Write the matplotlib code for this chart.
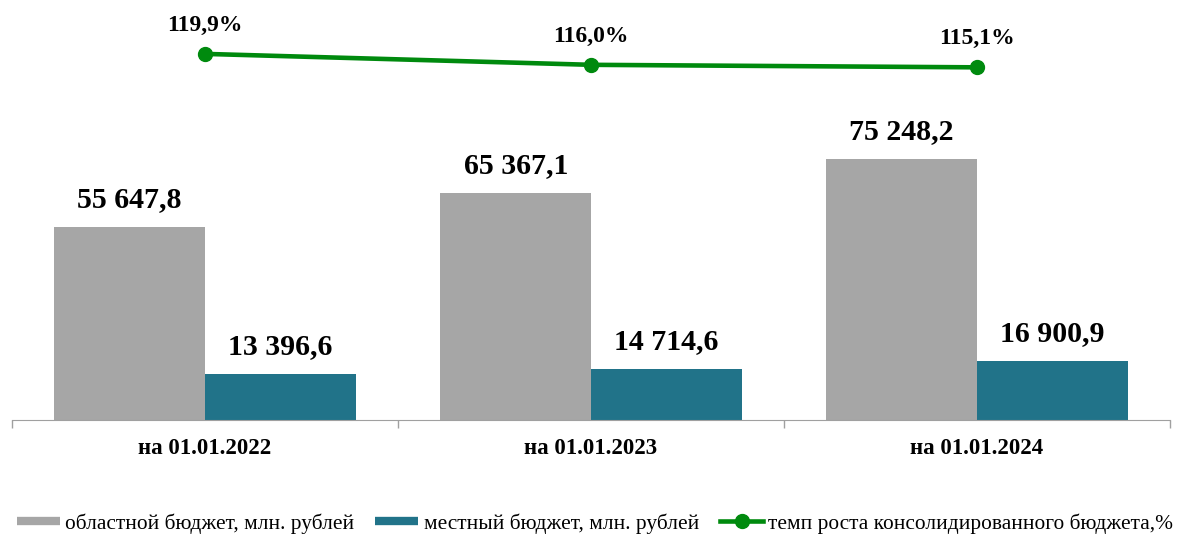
import numpy as np
import matplotlib.pyplot as plt
from matplotlib.lines import Line2D

plt.rcParams['font.family'] = ['Liberation Serif', 'DejaVu Serif']

categories = ["на 01.01.2022", "на 01.01.2023", "на 01.01.2024"]
regional = [55647.8, 65367.1, 75248.2]
local = [13396.6, 14714.6, 16900.9]
growth = [119.9, 116.0, 115.1]

GRAY = "#A6A6A6"
TEAL = "#217389"
GREEN = "#008A0E"


def fmt_num(v):
    s = "{:,.1f}".format(v)
    return s.replace(",", " ").replace(".", ",")


fig = plt.figure(figsize=(11.83, 5.34), dpi=100)
ax = fig.add_axes([12 / 1183, 114 / 534, 1158 / 1183, 400 / 534])

x = np.arange(len(categories))
w = 0.39
ax.bar(x - w / 2, regional, w, color=GRAY)
ax.bar(x + w / 2, local, w, color=TEAL)

for xi, v in zip(x - w / 2, regional):
    ax.annotate(fmt_num(v), (xi, v), xytext=(0, 10), textcoords="offset points",
                ha="center", va="bottom", fontsize=21.5, fontweight="bold")
for xi, v in zip(x + w / 2, local):
    ax.annotate(fmt_num(v), (xi, v), xytext=(0, 10), textcoords="offset points",
                ha="center", va="bottom", fontsize=21.5, fontweight="bold")

ax.set_xlim(-0.5, len(categories) - 0.5)
ax.set_ylim(0, 400 / 0.003468)
ax.set_xticks(x)
ax.set_xticklabels(categories, fontsize=16.5, fontweight="bold")
ax.set_xticks(np.arange(len(categories) + 1) - 0.5, minor=True)
ax.tick_params(axis="x", which="major", length=0, pad=13)
ax.tick_params(axis="x", which="minor", length=6, color="#A0A0A0", width=1)
ax.set_yticks([])
for side in ["top", "right", "left"]:
    ax.spines[side].set_visible(False)
ax.spines["bottom"].set_color("#A0A0A0")

# growth rate line on its own scale
ax2 = ax.twinx()
ax2.plot(x, growth, color=GREEN, lw=3.3, marker="o", ms=10, solid_capstyle="round")
ax2.set_ylim(-10.8, 132)
ax2.set_yticks([])
ax2.axis("off")
for xi, v in zip(x, growth):
    ax2.annotate("{:.1f}%".format(v).replace(".", ","), (xi, v), xytext=(0, 13),
                 textcoords="offset points", ha="center", va="bottom",
                 fontsize=17, fontweight="bold")

handles = [
    Line2D([], [], color=GRAY, lw=6, solid_capstyle="butt"),
    Line2D([], [], color=TEAL, lw=6, solid_capstyle="butt"),
    Line2D([], [], color=GREEN, lw=3.3, marker="o", ms=10),
]
labels = ["областной бюджет, млн. рублей", "местный бюджет, млн. рублей",
          "темп роста консолидированного бюджета,%"]
fig.legend(handles, labels, loc="center", bbox_to_anchor=(0.503, 0.02), ncol=3,
           frameon=False, fontsize=15.4, handlelength=2.0, handletextpad=0.25,
           columnspacing=1.0)

fig.savefig("out.png", dpi=100)
